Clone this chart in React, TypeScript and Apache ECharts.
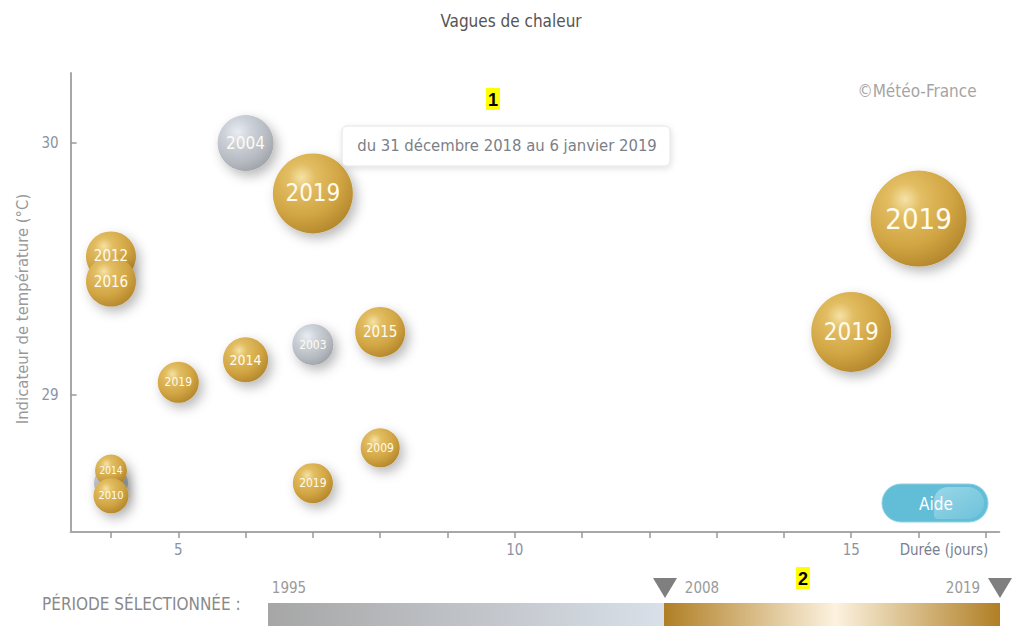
import React, { useEffect, useRef } from "react";
import * as echarts from "echarts";

// ---- data ----
const years = ["", "2004", "2019", "2012", "2016", "2019", "2014", "2003", "2015", "2009", "2019", "2014", "2010", "2019", "2019"];
const durations = [4, 6, 7, 4, 4, 5, 6, 7, 8, 8, 7, 4, 4, 16, 15];
const temperatures = [28.65, 30.0, 29.8, 29.55, 29.45, 29.05, 29.14, 29.2, 29.25, 28.79, 28.65, 28.7, 28.6, 29.7, 29.25];
const intensities = [17, 28, 40, 25, 25, 20.5, 22.5, 20.5, 25, 19.5, 20, 16, 17.5, 48, 40];
const xTicks = [4, 5, 6, 7, 8, 9, 10, 11, 12, 13, 14, 15, 16, 17];
const xLabels = [5, 10, 15];
const yTicks = [29, 30];
const periodStart = 1995;
const periodSelStart = 2008;
const periodEnd = 2019;

const FONT = '"Liberation Sans Narrow", "DejaVu Sans Condensed", "Open Sans", sans-serif';

const gold = () =>
  new echarts.graphic.RadialGradient(0.36, 0.3, 0.78, [
    { offset: 0, color: "#f5e2a6" },
    { offset: 0.22, color: "#e2bd62" },
    { offset: 0.62, color: "#d1a543" },
    { offset: 1, color: "#b0832a" },
  ]);
const grey = () =>
  new echarts.graphic.RadialGradient(0.36, 0.3, 0.78, [
    { offset: 0, color: "#e8ecf2" },
    { offset: 0.3, color: "#ced3db" },
    { offset: 0.7, color: "#b5b9c0" },
    { offset: 1, color: "#9ca0a6" },
  ]);

export default function App() {
  const ref = useRef<HTMLDivElement>(null);
  useEffect(() => {
    if (!ref.current) return;
    const chart = echarts.init(ref.current, null, { renderer: "svg" });
    const data = years.map((y, i) => {
      const inPeriod = Number(y) >= periodSelStart;
      return {
        value: [durations[i], temperatures[i], intensities[i]],
        name: y,
        itemStyle: { color: inPeriod ? gold() : grey() },
        label: { show: y !== "", fontSize: Math.round(intensities[i] * 0.6) },
      };
    });
    chart.setOption({
      animation: false,
      textStyle: { fontFamily: FONT },
      grid: { left: 70.6, top: 73, width: 928.7, height: 459, containLabel: false },
      xAxis: {
        type: "value",
        min: 3.4,
        max: 17.2,
        splitLine: { show: false },
        axisLine: { lineStyle: { color: "#a8a8a8", width: 2 } },
        axisTick: { customValues: xTicks, length: 6, lineStyle: { color: "#999", width: 1.5 } },
        axisLabel: { customValues: xLabels, color: "#8b93a2", fontSize: 15, margin: 10, fontFamily: FONT },
      },
      yAxis: {
        type: "value",
        min: 28.456,
        max: 30.278,
        splitLine: { show: false },
        axisLine: { show: true, lineStyle: { color: "#a8a8a8", width: 2 } },
        axisTick: { show: true, inside: true, customValues: yTicks, length: 6, lineStyle: { color: "#999", width: 1.5 } },
        axisLabel: { customValues: yTicks, color: "#8b93a2", fontSize: 15, margin: 12, fontFamily: FONT },
      },
      series: [
        {
          type: "scatter",
          data,
          symbolSize: (v: number[]) => v[2] * 2,
          itemStyle: {
            opacity: 1,
            shadowBlur: 12,
            shadowOffsetX: 4,
            shadowOffsetY: 5,
            shadowColor: "rgba(0,0,0,0.28)",
          },
          label: {
            show: true,
            position: "inside",
            formatter: (p: any) => p.name,
            color: "#fffbee",
            fontFamily: FONT,
          },
          emphasis: { disabled: true },
        },
      ],
      graphic: [
        { type: "text", x: 511, y: 21, style: { text: "Vagues de chaleur", fill: "#555", font: `17px ${FONT}`, align: "center", verticalAlign: "middle" } },
        { type: "text", x: 917, y: 91, style: { text: "©Météo-France", fill: "#a5a5a5", font: `17px ${FONT}`, align: "center", verticalAlign: "middle" } },
        { type: "text", x: 22, y: 309, rotation: Math.PI / 2, style: { text: "Indicateur de température (°C)", fill: "#999", font: `16.5px ${FONT}`, align: "center", verticalAlign: "middle" } },
        { type: "text", x: 944, y: 550, style: { text: "Durée (jours)", fill: "#7a8090", font: `15px ${FONT}`, align: "center", verticalAlign: "middle" } },
        // tooltip box
        {
          type: "rect",
          shape: { x: 342, y: 126, width: 328, height: 40, r: 5 },
          style: { fill: "#fff", stroke: "#e4e4e4", lineWidth: 1, shadowBlur: 6, shadowOffsetX: 1, shadowOffsetY: 2, shadowColor: "rgba(0,0,0,0.12)" },
          z: 10,
        },
        { type: "text", x: 507, y: 145, z: 11, style: { text: "du 31 décembre 2018 au 6 janvier 2019", fill: "#7b7f88", font: `16.5px ${FONT}`, align: "center", verticalAlign: "middle" } },
        // markers
        { type: "rect", shape: { x: 486, y: 88, width: 14, height: 22 }, style: { fill: "#ffff00" }, z: 10 },
        { type: "text", x: 493, y: 100, z: 11, style: { text: "1", fill: "#000", font: `bold 18px Arial, "Liberation Sans", sans-serif`, align: "center", verticalAlign: "middle" } },
        // Aide button
        {
          type: "rect",
          shape: { x: 882, y: 484, width: 106, height: 38, r: 19 },
          style: { fill: "#62bdd6", stroke: "#8fd0e2", lineWidth: 1 },
          z: 10,
        },
        {
          type: "rect",
          shape: { x: 934, y: 487, width: 50, height: 32, r: [14, 16, 16, 4] },
          style: {
            fill: new echarts.graphic.LinearGradient(0, 0, 1, 1, [
              { offset: 0, color: "#9ad6e7" },
              { offset: 1, color: "#6cc2da" },
            ]),
          },
          z: 10,
        },
        { type: "text", x: 936, y: 504, z: 11, style: { text: "Aide", fill: "#ffffff", font: `17px ${FONT}`, align: "center", verticalAlign: "middle" } },
        // period selector
        { type: "text", x: 42, y: 604, style: { text: "PÉRIODE SÉLECTIONNÉE :", fill: "#8a8a8a", font: `17px ${FONT}`, align: "left", verticalAlign: "middle" } },
        {
          type: "rect",
          shape: { x: 268, y: 603, width: 396, height: 26 },
          style: {
            fill: new echarts.graphic.LinearGradient(0, 0, 1, 0, [
              { offset: 0, color: "#a6a6a6" },
              { offset: 1, color: "#d9e0e9" },
            ]),
          },
        },
        {
          type: "rect",
          shape: { x: 664, y: 603, width: 336, height: 26 },
          style: {
            fill: new echarts.graphic.LinearGradient(0, 0, 1, 0, [
              { offset: 0, color: "#b07f25" },
              { offset: 0.51, color: "#fcf2df" },
              { offset: 1, color: "#b07f25" },
            ]),
          },
        },
        { type: "text", x: 289, y: 588, style: { text: String(periodStart), fill: "#9a9a9a", font: `15px ${FONT}`, align: "center", verticalAlign: "middle" } },
        { type: "text", x: 702, y: 588, style: { text: String(periodSelStart), fill: "#9a9a9a", font: `15px ${FONT}`, align: "center", verticalAlign: "middle" } },
        { type: "text", x: 963, y: 588, style: { text: String(periodEnd), fill: "#9a9a9a", font: `15px ${FONT}`, align: "center", verticalAlign: "middle" } },
        { type: "polygon", shape: { points: [[653, 578], [677, 578], [665, 598]] }, style: { fill: "#7f7f7f" } },
        { type: "polygon", shape: { points: [[988, 578], [1012, 578], [1000, 598]] }, style: { fill: "#7f7f7f" } },
        { type: "rect", shape: { x: 796, y: 567, width: 14, height: 22 }, style: { fill: "#ffff00" }, z: 10 },
        { type: "text", x: 803, y: 579, z: 11, style: { text: "2", fill: "#000", font: `bold 18px Arial, "Liberation Sans", sans-serif`, align: "center", verticalAlign: "middle" } },
      ],
    });
    return () => chart.dispose();
  }, []);
  return (
    <div
      ref={ref}
      style={{ position: "fixed", left: 0, top: 0, width: 1012, height: 626, background: "#fff" }}
    />
  );
}
